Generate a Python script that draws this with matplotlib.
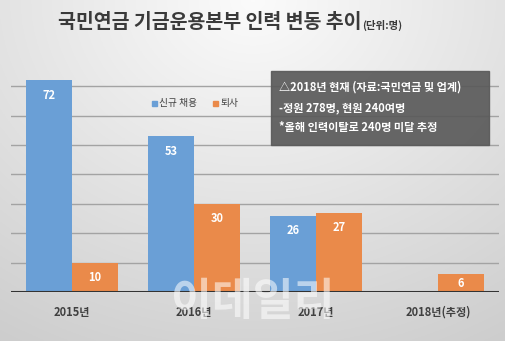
import matplotlib
matplotlib.use("Agg")
import matplotlib.pyplot as plt
import numpy as np
from matplotlib.patches import Rectangle

plt.rcParams['font.family'] = ['Noto Sans CJK KR', 'DejaVu Sans']

categories = ['2015년', '2016년', '2017년', '2018년(추정)']
hires = [72, 53, 26, None]
leaves = [10, 30, 27, 6]
series_names = ['신규 채용', '퇴사']
title = '국민연금 기금운용본부 인력 변동 추이'
unit = '(단위:명)'
note_lines = ['△2018년 현재 (자료:국민연금 및 업계)', '-정원 278명, 현원 240여명', '*올해 인력이탈로 240명 미달 추정']

blue = '#6a9fd6'
orange = '#ea8a4a'

W, H = 506, 341
fig = plt.figure(figsize=(W/100, H/100), dpi=100)

# background gradient
bg = fig.add_axes([0, 0, 1, 1], zorder=-10)
yy, xx = np.mgrid[0:1:200j, 0:1:300j]
r = np.sqrt(((xx-0.5)/0.9)**2 + ((yy-0.0)/1.1)**2)
val = 0.985 - 0.17*np.clip(r, 0, 1.2)
bg.imshow(np.dstack([val, val, val]), extent=[0, 1, 0, 1], origin='upper', aspect='auto')
bg.axis('off')

ax = fig.add_axes([11/W, 1-292/H, (499-11)/W, (292-56.7)/H])
ax.patch.set_alpha(0)
x = np.arange(len(categories))
bw = 0.377
px_per_unit = 235.3/80
off = 15/px_per_unit

for i, v in enumerate(hires):
    if v is None:
        continue
    ax.bar(x[i]-bw/2, v, bw, color=blue, zorder=3)
    ax.text(x[i]-bw/2, max(v-off, v/2), str(v), ha='center', va='center', color='white',
            fontsize=8, fontweight='bold', zorder=4)
for i, v in enumerate(leaves):
    ax.bar(x[i]+bw/2, v, bw, color=orange, zorder=3)
    ax.text(x[i]+bw/2, max(v-off, v/2), str(v), ha='center', va='center', color='white',
            fontsize=8, fontweight='bold', zorder=4)

ax.set_xlim(-0.5, len(categories)-0.5)
ax.set_ylim(0, 80)
for g in range(10, 80, 10):
    ax.axhline(g, color='#a3a3a3', lw=1.0, zorder=1)
ax.axhline(0, color='#333333', lw=2.2, zorder=5)
for s in ax.spines.values():
    s.set_visible(False)
ax.set_yticks([])
ax.set_xticks(x)
ax.set_xticklabels(categories, fontsize=8, fontweight='bold', color='#404040')
ax.tick_params(axis='x', length=0, pad=10)

# title
t = fig.text(58/W, 1-23/H, title, fontsize=14, fontweight='bold', color='#3a3a3a', ha='left', va='center')
fig.canvas.draw()
bb = t.get_window_extent()
fig.text(bb.x1/W + 1/W, 1-25/H, unit, fontsize=7.5, fontweight='bold', color='#3a3a3a', ha='left', va='center')

# legend
fig.patches.append(Rectangle((152/W, 1-106/H), 5/W, 5/H, transform=fig.transFigure, color=blue))
fig.text(159/W, 1-103.5/H, series_names[0], fontsize=7, color='#404040', ha='left', va='center')
fig.patches.append(Rectangle((213/W, 1-106/H), 5/W, 5/H, transform=fig.transFigure, color=orange))
fig.text(220/W, 1-103.5/H, series_names[1], fontsize=7, color='#404040', ha='left', va='center')

# note box
fig.patches.append(Rectangle((271/W, 1-145/H), (489-271)/W, (145-71)/H, transform=fig.transFigure,
                             color='#5a5a5a', alpha=0.92, zorder=6))
for k, (line, yp) in enumerate(zip(note_lines, [87, 108, 128])):
    fig.text(279/W, 1-yp/H, line, fontsize=8, fontweight='bold', color='white', ha='left', va='center', zorder=7)

# watermark
fig.text(253/W, 1-302/H, '이데일리', fontsize=32, fontweight='bold', color='white', alpha=0.55,
         ha='center', va='center', zorder=8)

fig.savefig('out.png', dpi=100)
